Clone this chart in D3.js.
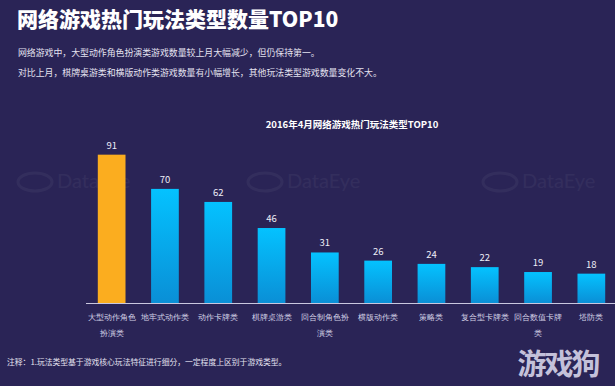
<!DOCTYPE html>
<html>
<head>
<meta charset="utf-8">
<script src="https://cdn.jsdelivr.net/npm/d3@7"></script>
<style>
  html, body { margin: 0; padding: 0; background: #2a2456; }
  svg { display: block; font-family: "Noto Sans CJK SC", "Noto Sans", sans-serif; }
</style>
</head>
<body>
<svg width="615" height="386"></svg>
<script>
const categories = ['大型动作角色扮演类', '地牢式动作类', '动作卡牌类', '棋牌桌游类', '回合制角色扮演类',
                    '横版动作类', '策略类', '复合型卡牌类', '回合数值卡牌类', '塔防类'];
const counts = [91, 70, 62, 46, 31, 26, 24, 22, 19, 18];
const title = '网络游戏热门玩法类型数量TOP10';
const notes = ['网络游戏中，大型动作角色扮演类游戏数量较上月大幅减少，但仍保持第一。',
               '对比上月，棋牌桌游类和横版动作类游戏数量有小幅增长，其他玩法类型游戏数量变化不大。'];
const chartTitle = '2016年4月网络游戏热门玩法类型TOP10';
const footnote = '注释：1.玩法类型基于游戏核心玩法特征进行细分，一定程度上区别于游戏类型。';

const svg = d3.select('svg');

svg.append('rect').attr('width', 615).attr('height', 386).attr('fill', '#2a2456');

// faint watermarks
const marks = [[75, 186], [305, 186], [540, 186]];
const wm = svg.append('g').attr('opacity', 0.045).attr('fill', '#fff');
marks.forEach(([x, y]) => {
    wm.append('ellipse').attr('cx', x - 40).attr('cy', y - 4).attr('rx', 17).attr('ry', 9)
        .attr('fill', 'none').attr('stroke', '#fff').attr('stroke-width', 3);
    wm.append('text').attr('x', x - 18).attr('y', y + 2).attr('font-size', 20)
        .attr('font-family', 'Lato, sans-serif').text('DataEye');
});

svg.append('text')
    .attr('x', 17).attr('y', 27)
    .attr('fill', '#fff').attr('font-size', 21).attr('font-weight', 900)
    .text(title);

svg.selectAll('text.note')
    .data(notes)
    .enter()
    .append('text')
    .attr('class', 'note')
    .attr('x', 18)
    .attr('y', (d, i) => 56 + i * 20)
    .attr('fill', '#e4e2f0')
    .attr('font-size', 8.9)
    .text(d => d);

svg.append('text')
    .attr('x', 352).attr('y', 128)
    .attr('text-anchor', 'middle')
    .attr('fill', '#fff').attr('font-size', 9.5).attr('font-weight', 700)
    .text(chartTitle);

const x = d3.scaleBand()
    .domain(categories)
    .range([85, 618])
    .paddingInner(0.48)
    .paddingOuter(0.24);

const y = d3.scaleLinear()
    .domain([0, 100])
    .range([303, 140]);

const defs = svg.append('defs');
const grad = defs.append('linearGradient')
    .attr('id', 'blueGrad')
    .attr('x1', 0).attr('y1', 0).attr('x2', 0).attr('y2', 1);
grad.append('stop').attr('offset', '0%').attr('stop-color', '#04c2ff');
grad.append('stop').attr('offset', '100%').attr('stop-color', '#0a8fd6');

svg.append('g')
    .selectAll('rect')
    .data(counts)
    .enter()
    .append('rect')
    .attr('x', (d, i) => x(categories[i]))
    .attr('y', d => y(d))
    .attr('width', x.bandwidth())
    .attr('height', d => y(0) - y(d))
    .attr('fill', (d, i) => i === 0 ? '#fbad1f' : 'url(#blueGrad)');

svg.append('g')
    .selectAll('text')
    .data(counts)
    .enter()
    .append('text')
    .attr('x', (d, i) => x(categories[i]) + x.bandwidth() / 2)
    .attr('y', d => y(d) - 6)
    .attr('text-anchor', 'middle')
    .attr('fill', '#eeeef6')
    .attr('font-size', 9.5)
    .text(d => d);

// axis baseline + wrapped labels
const xAxis = svg.append('g')
    .attr('transform', `translate(0, ${y(0)})`)
    .call(d3.axisBottom(x).tickSize(0).tickPadding(0));
xAxis.select('.domain').attr('stroke', '#c9c7df').attr('stroke-width', 1.2)
    .attr('d', 'M86,0.5H615');
xAxis.selectAll('.tick text').remove();
xAxis.selectAll('.tick').each(function (d) {
    const lines = [];
    for (let i = 0; i < d.length; i += 6) lines.push(d.slice(i, i + 6));
    const t = d3.select(this).append('text')
        .attr('fill', '#d4d2e6')
        .attr('font-size', 8.2)
        .attr('text-anchor', 'middle');
    lines.forEach((l, i) => t.append('tspan').attr('x', 0).attr('y', 17 + i * 16).text(l));
});

svg.append('text')
    .attr('x', 7).attr('y', 365)
    .attr('fill', '#e4e2f0').attr('font-size', 7.8)
    .text(footnote);

svg.append('text')
    .attr('x', 558).attr('y', 375)
    .attr('text-anchor', 'middle')
    .attr('fill', '#c4c1da').attr('font-size', 29).attr('font-weight', 700)
    .attr('letter-spacing', -2)
    .text('游戏狗');
</script>
</body>
</html>
